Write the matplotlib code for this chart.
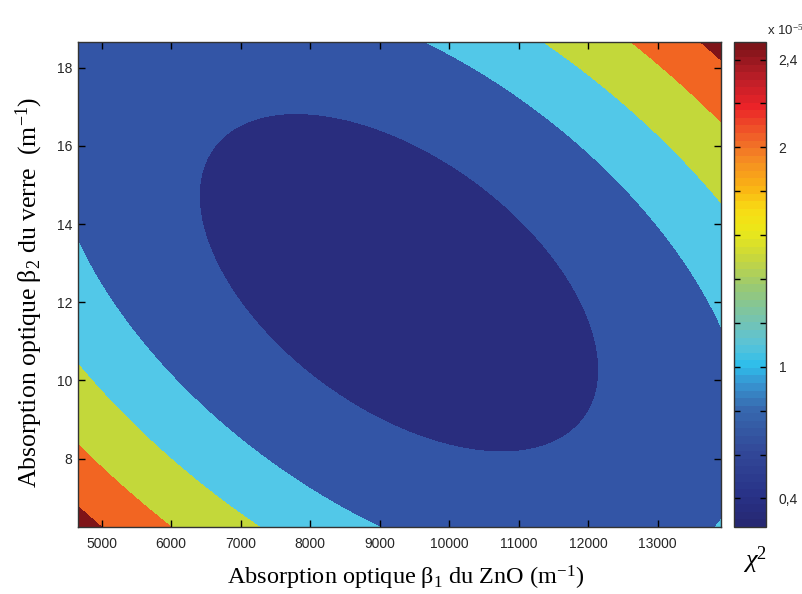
import numpy as np
import matplotlib.pyplot as plt
from matplotlib.colors import LinearSegmentedColormap, Normalize
from matplotlib.cm import ScalarMappable

plt.rcParams['mathtext.fontset'] = 'custom'
plt.rcParams['mathtext.rm'] = 'Liberation Serif'
plt.rcParams['mathtext.it'] = 'Liberation Serif:italic'

# axis limits
beta1_lim = [4660, 13910]   # m^-1
beta2_lim = [6.25, 18.66]   # m^-1

# chi2 valley (units of 1e-5)
beta1_best = 9278
beta2_best = 12.50
chi2_best = 0.27
curv_b1 = 0.0379      # per (1000 m^-1)^2
curv_cross = 0.0259
curv_b2 = 0.0167

# contour boundaries and the fill colour of each band
levels = [0.50, 0.97, 1.40, 1.86, 2.31]
band_colors = ['#292d7e', '#3355a6', '#52c8e8', '#c3d83a', '#f26522', '#7f1418']

# colour bar (printed jet) : value -> colour
cbar_vals = [0.27, 0.40, 0.60, 0.80, 0.92, 1.00, 1.10, 1.20, 1.35, 1.50,
             1.62, 1.72, 1.82, 1.95, 2.05, 2.20, 2.32, 2.48]
cbar_cols = ['#262873', '#283287', '#324898', '#3769af', '#3796d2', '#2dbeeb',
             '#5ac3d7', '#73c3b4', '#96c878', '#c8d73c', '#ebe819', '#f8dc14',
             '#fab414', '#f58c23', '#f06428', '#eb2328', '#be1e28', '#7d1419']
cbar_ticks = [0.4, 0.6, 0.8, 1.0, 1.2, 1.4, 1.6, 1.8, 2.0, 2.2, 2.4]
cbar_labels = ['0,4', '', '', '1', '', '', '', '', '2', '', '2,4']

x_ticks = [5000, 6000, 7000, 8000, 9000, 10000, 11000, 12000, 13000]
y_ticks = [8, 10, 12, 14, 16, 18]

b1 = np.linspace(beta1_lim[0], beta1_lim[1], 500)
b2 = np.linspace(beta2_lim[0], beta2_lim[1], 500)
B1, B2 = np.meshgrid(b1, b2)
u = (B1 - beta1_best) / 1000
v = B2 - beta2_best
chi2 = chi2_best + curv_b1 * u**2 + curv_cross * u * v + curv_b2 * v**2

vmin, vmax = cbar_vals[0], cbar_vals[-1]
pos = [(x - vmin) / (vmax - vmin) for x in cbar_vals]
cmap = LinearSegmentedColormap.from_list('printjet', list(zip(pos, cbar_cols)), N=64)

fig = plt.figure(figsize=(8.03, 5.94), dpi=100)
ax = fig.add_axes([0.0971, 0.1128, 0.8007, 0.8165])
cax = fig.add_axes([0.914, 0.1128, 0.040, 0.8165])

all_levels = [chi2.min() - 1] + levels + [chi2.max() + 1]
ax.contourf(B1, B2, chi2, levels=all_levels, colors=band_colors, antialiased=False)

ax.set_xlim(beta1_lim)
ax.set_ylim(beta2_lim)
ax.set_xticks(x_ticks)
ax.set_yticks(y_ticks)
ax.tick_params(direction='in', length=5, width=1, top=True, right=True,
               labelsize=10, labelcolor='#262626', labelfontfamily='Liberation Sans')
ax.tick_params(axis='x', pad=7)
ax.tick_params(axis='y', pad=4)
for s in ax.spines.values():
    s.set_linewidth(1)
    s.set_color('#333333')

ax.set_xlabel('Absorption optique β$_1$ du ZnO (m$^{-1}$)', fontsize=17.5,
              family='Liberation Serif')
ax.xaxis.set_label_coords(0.51, -0.076)
ax.set_ylabel('Absorption optique β$_2$ du verre  (m$^{-1}$)', fontsize=18.5,
              family='Liberation Serif')
ax.yaxis.set_label_coords(-0.051, 0.4845)

sm = ScalarMappable(norm=Normalize(vmin, vmax), cmap=cmap)
cb = fig.colorbar(sm, cax=cax)
cb.set_ticks(cbar_ticks)
cb.set_ticklabels(cbar_labels)
cax.tick_params(direction='in', length=4, width=1, left=True, right=True,
                labelsize=10, labelcolor='#262626', labelfontfamily='Liberation Sans', pad=9)
cb.outline.set_linewidth(1)
cb.outline.set_edgecolor('#333333')

fig.text(0.955, 0.941, 'x 10$^{-5}$', fontsize=9.5, family='Liberation Sans', color='#262626')
fig.text(0.940, 0.057, 'χ$^2$', fontsize=19, family='Liberation Serif', style='italic',
         ha='center', va='center')

fig.savefig('out.png', dpi=100)
